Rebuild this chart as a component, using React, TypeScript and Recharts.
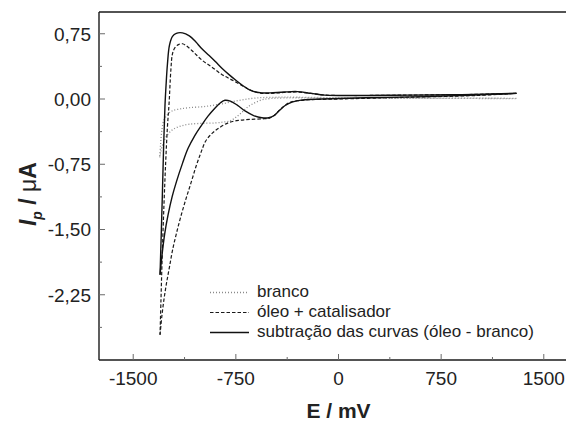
import React from 'react';
import { LineChart, Line, XAxis, YAxis, ReferenceLine } from 'recharts';

// ---- tick values ----
const xTicks = [-1500, -1125, -750, -375, 0, 375, 750, 1125, 1500];
const xMajor = [-1500, -750, 0, 750, 1500];
const yTicks = [-2.625, -2.25, -1.875, -1.5, -1.125, -0.75, -0.375, 0, 0.375, 0.75];
const yMajor = [-2.25, -1.5, -0.75, 0, 0.75];
const xDomain = [-1750, 1750];
const yDomain = [-3, 1];

// ---- branco (dotted) ----
const brancoFwdE = [1300, 800, 300, 0, -300, -450, -600, -725, -850, -970, -1090, -1160, -1213, -1250, -1275, -1290, -1300, -1306];
const brancoFwdI = [0.008, 0.01, 0.012, 0.015, 0.02, 0.02, 0.012, -0.016, -0.055, -0.085, -0.1, -0.115, -0.135, -0.18, -0.24, -0.35, -0.52, -0.67];
const brancoRevE = [-1306, -1290, -1265, -1238, -1200, -1150, -1090, -1000, -900, -840, -790, -750, -710, -670, -620, -560, -500, -400, 0, 500, 1300];
const brancoRevI = [-0.67, -0.55, -0.45, -0.39, -0.34, -0.31, -0.29, -0.28, -0.275, -0.265, -0.25, -0.21, -0.16, -0.1, -0.05, -0.01, 0.005, 0.012, 0.01, 0.008, 0.005];

// ---- óleo + catalisador (dashed) ----
const oleoFwdE = [1300, 900, 500, 100, -100, -200, -300, -400, -500, -580, -640, -700, -780, -850, -920, -1000, -1060, -1110, -1140, -1170, -1195, -1213, -1225, -1238, -1250, -1262, -1275, -1288, -1297, -1304];
const oleoFwdI = [0.065, 0.05, 0.045, 0.04, 0.045, 0.065, 0.08, 0.075, 0.065, 0.07, 0.1, 0.15, 0.22, 0.28, 0.36, 0.45, 0.54, 0.61, 0.635, 0.625, 0.59, 0.52, 0.33, -0.05, -0.32, -0.7, -1.2, -1.8, -2.3, -2.71];
const oleoRevE = [-1304, -1291, -1275, -1257, -1235, -1213, -1185, -1152, -1115, -1079, -1040, -1006, -969, -920, -870, -800, -725, -650, -560, -505, -470, -432, -395, -359, -300, -200, 0, 500, 1000, 1300];
const oleoRevI = [-2.71, -2.5, -2.3, -2.12, -1.93, -1.74, -1.55, -1.35, -1.15, -0.97, -0.77, -0.62, -0.48, -0.39, -0.33, -0.27, -0.245, -0.235, -0.228, -0.22, -0.19, -0.13, -0.08, -0.04, -0.02, -0.008, 0, 0.02, 0.04, 0.065];

// ---- subtração (solid) ----
const subFwdE = [1300, 900, 500, 100, -100, -200, -300, -400, -500, -560, -605, -650, -700, -750, -800, -850, -900, -945, -1000, -1045, -1090, -1140, -1185, -1213, -1235, -1250, -1260, -1268, -1277, -1287, -1296, -1304];
const subFwdI = [0.065, 0.05, 0.045, 0.04, 0.045, 0.065, 0.085, 0.08, 0.07, 0.07, 0.08, 0.105, 0.155, 0.215, 0.28, 0.35, 0.43, 0.5, 0.58, 0.66, 0.725, 0.76, 0.755, 0.72, 0.62, 0.4, 0.16, -0.08, -0.5, -1.1, -1.6, -2.02];
const subRevE = [-1304, -1290, -1270, -1245, -1215, -1184, -1140, -1100, -1050, -1000, -955, -900, -860, -830, -790, -740, -680, -620, -560, -510, -470, -430, -390, -340, -260, -120, 200, 700, 1300];
const subRevI = [-2.02, -1.8, -1.55, -1.33, -1.12, -0.95, -0.74, -0.57, -0.42, -0.3, -0.2, -0.1, -0.04, -0.015, -0.025, -0.07, -0.14, -0.19, -0.215, -0.215, -0.19, -0.13, -0.075, -0.035, -0.01, 0, 0.015, 0.03, 0.065];

const zip = (e: number[], i: number[]) => e.map((x, k) => ({ x, y: i[k] }));

// centripetal Catmull-Rom curve (same maths as d3 curveCatmullRom.alpha(0.5))
class CatmullRom {
  _context: any; _alpha: number; _line: number = NaN; _point = 0;
  _x0 = NaN; _x1 = NaN; _x2 = NaN; _y0 = NaN; _y1 = NaN; _y2 = NaN;
  _l01_a = 0; _l12_a = 0; _l23_a = 0; _l01_2a = 0; _l12_2a = 0; _l23_2a = 0;
  constructor(context: any, alpha: number) { this._context = context; this._alpha = alpha; }
  areaStart() { this._line = 0; }
  areaEnd() { this._line = NaN; }
  lineStart() {
    this._x0 = this._x1 = this._x2 = this._y0 = this._y1 = this._y2 = NaN;
    this._l01_a = this._l12_a = this._l23_a = this._l01_2a = this._l12_2a = this._l23_2a = this._point = 0;
  }
  lineEnd() {
    switch (this._point) {
      case 2: this._context.lineTo(this._x2, this._y2); break;
      case 3: this.point(this._x2, this._y2); break;
    }
    if (this._line || (this._line !== 0 && this._point === 1)) this._context.closePath();
    this._line = 1 - this._line;
  }
  seg(x: number, y: number) {
    let x1 = this._x1, y1 = this._y1, x2 = this._x2, y2 = this._y2;
    const eps = 1e-12;
    if (this._l01_a > eps) {
      const a = 2 * this._l01_2a + 3 * this._l01_a * this._l12_a + this._l12_2a;
      const n = 3 * this._l01_a * (this._l01_a + this._l12_a);
      x1 = (x1 * a - this._x0 * this._l12_2a + this._x2 * this._l01_2a) / n;
      y1 = (y1 * a - this._y0 * this._l12_2a + this._y2 * this._l01_2a) / n;
    }
    if (this._l23_a > eps) {
      const b = 2 * this._l23_2a + 3 * this._l23_a * this._l12_a + this._l12_2a;
      const m = 3 * this._l23_a * (this._l23_a + this._l12_a);
      x2 = (x2 * b + this._x1 * this._l23_2a - x * this._l12_2a) / m;
      y2 = (y2 * b + this._y1 * this._l23_2a - y * this._l12_2a) / m;
    }
    this._context.bezierCurveTo(x1, y1, x2, y2, this._x2, this._y2);
  }
  point(x: number, y: number) {
    x = +x; y = +y;
    if (this._point) {
      const x23 = this._x2 - x, y23 = this._y2 - y;
      this._l23_2a = Math.pow(x23 * x23 + y23 * y23, this._alpha);
      this._l23_a = Math.sqrt(this._l23_2a);
    }
    switch (this._point) {
      case 0: this._point = 1; if (this._line) this._context.lineTo(x, y); else this._context.moveTo(x, y); break;
      case 1: this._point = 2; break;
      case 2: this._point = 3; this.seg(x, y); break;
      default: this.seg(x, y); break;
    }
    this._l01_a = this._l12_a; this._l12_a = this._l23_a;
    this._l01_2a = this._l12_2a; this._l12_2a = this._l23_2a;
    this._x0 = this._x1; this._x1 = this._x2; this._x2 = x;
    this._y0 = this._y1; this._y1 = this._y2; this._y2 = y;
  }
}
const smooth: any = (ctx: any) => new CatmullRom(ctx, 0.5);

const FONT = '"Liberation Sans", Arial, Helvetica, sans-serif';
const AXIS = '#1a1a1a';
const TICK = '#6a6a6a';
const fmtY = (v: number) => v.toFixed(2).replace('.', ',');

const XTick = (props: any) => {
  const { x, y, payload } = props;
  const major = xMajor.includes(payload.value);
  return (
    <g>
      <line x1={x} y1={y} x2={x} y2={y - (major ? 6 : 3)} stroke={TICK} strokeWidth={1} />
      {major && (
        <text x={x} y={y + 24.5} textAnchor="middle" fontFamily={FONT} fontSize={19} fill="#222">
          {payload.value}
        </text>
      )}
    </g>
  );
};

const YTick = (props: any) => {
  const { x, y, payload } = props;
  const major = yMajor.includes(payload.value);
  return (
    <g>
      <line x1={x} y1={y} x2={x + (major ? 6 : 3)} y2={y} stroke={TICK} strokeWidth={1} />
      {major && (
        <text x={x - 8} y={y} dy="0.36em" textAnchor="end" fontFamily={FONT} fontSize={19} fill="#222">
          {fmtY(payload.value)}
        </text>
      )}
    </g>
  );
};

const YLabel = (props: any) => {
  const vb = props.viewBox;
  const cx = vb.x + 28;
  const cy = vb.y + vb.height / 2 + 8;
  return (
    <text transform={`rotate(-90 ${cx} ${cy})`} x={cx} y={cy} dy="0.36em" textAnchor="middle" fontFamily={FONT} fontSize={23} fontWeight="bold" fill="#222">
      <tspan fontStyle="italic">I</tspan>
      <tspan fontStyle="italic" fontSize={14} dy={6}>p</tspan>
      <tspan dy={-6}> / </tspan>
      <tspan fontWeight="normal">μ</tspan>
      <tspan>A</tspan>
    </text>
  );
};

const XLabel = (props: any) => {
  const vb = props.viewBox;
  return (
    <text x={vb.x + vb.width / 2} y={vb.y + 58} textAnchor="middle" fontFamily={FONT} fontSize={21} fontWeight="bold" fill="#222">
      E / mV
    </text>
  );
};

const series = [
  { name: 'branco', stroke: '#8a8a8a', width: 1.3, dash: '1 2' },
  { name: 'óleo + catalisador', stroke: '#1a1a1a', width: 1.2, dash: '3.5 2' },
  { name: 'subtração das curvas (óleo - branco)', stroke: '#111', width: 1.4, dash: undefined as string | undefined },
];

export default function App() {
  const lines = [
    { key: 'bf', data: zip(brancoFwdE, brancoFwdI), s: series[0] },
    { key: 'br', data: zip(brancoRevE, brancoRevI), s: series[0] },
    { key: 'of', data: zip(oleoFwdE, oleoFwdI), s: series[1] },
    { key: 'or', data: zip(oleoRevE, oleoRevI), s: series[1] },
    { key: 'sf', data: zip(subFwdE, subFwdI), s: series[2] },
    { key: 'sr', data: zip(subRevE, subRevI), s: series[2] },
  ];
  return (
    <div style={{ position: 'absolute', left: 0, top: 0, width: 566, height: 422, overflow: 'hidden', background: '#fff', fontFamily: FONT }}>
      <LineChart width={600} height={422} margin={{ top: 12, right: 22, bottom: 0, left: 0 }}>
        <XAxis
          type="number"
          dataKey="x"
          domain={xDomain}
          ticks={xTicks}
          interval={0}
          allowDataOverflow
          height={62}
          tickSize={0}
          tickMargin={0}
          tickLine={false}
          tick={<XTick />}
          axisLine={{ stroke: AXIS, strokeWidth: 1.4 }}
          label={{ content: <XLabel /> } as any}
        />
        <YAxis
          type="number"
          dataKey="y"
          domain={yDomain}
          ticks={yTicks}
          interval={0}
          allowDataOverflow
          width={99}
          tickSize={0}
          tickMargin={0}
          tickLine={false}
          tick={<YTick />}
          axisLine={{ stroke: AXIS, strokeWidth: 1.4 }}
          label={{ content: <YLabel /> } as any}
        />
        <ReferenceLine y={1} stroke={AXIS} strokeWidth={1.4} />
        {lines.map((l) => (
          <Line
            key={l.key}
            data={l.data}
            dataKey="y"
            type={smooth}
            stroke={l.s.stroke}
            strokeWidth={l.s.width}
            strokeDasharray={l.s.dash}
            dot={false}
            activeDot={false}
            isAnimationActive={false}
            legendType="none"
          />
        ))}
      </LineChart>
      <div style={{ position: 'absolute', left: 210, top: 282, fontFamily: FONT, fontSize: 17, color: '#222', lineHeight: '20px' }}>
        {series.map((s) => (
          <div key={s.name} style={{ display: 'flex', alignItems: 'center', height: 20, whiteSpace: 'nowrap' }}>
            <svg width={40} height={20} style={{ display: 'block' }}>
              <line x1={0} y1={10.5} x2={39} y2={10.5} stroke={s.stroke} strokeWidth={s.width} strokeDasharray={s.dash} />
            </svg>
            <span style={{ marginLeft: 7 }}>{s.name}</span>
          </div>
        ))}
      </div>
    </div>
  );
}
